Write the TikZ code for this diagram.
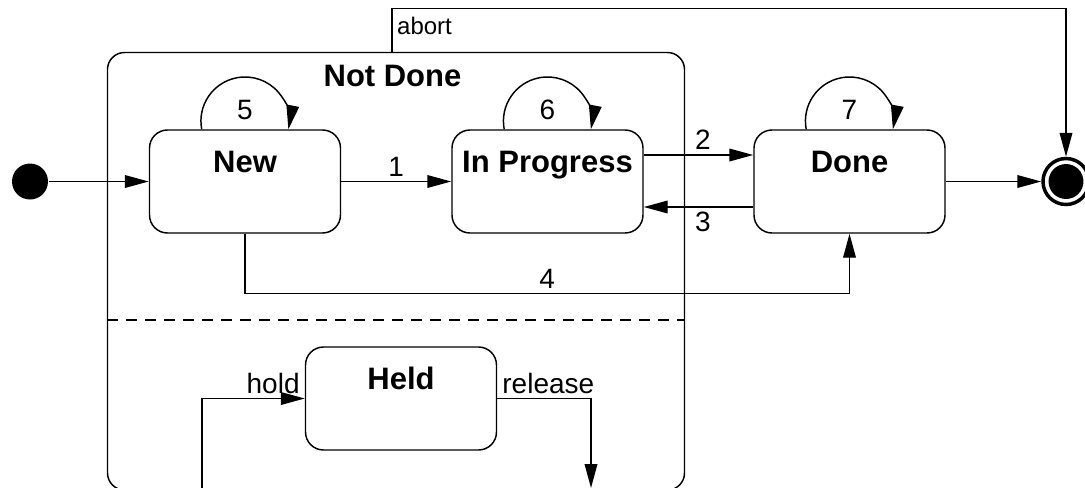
\documentclass[tikz,border=0pt]{standalone}
\usepackage{fontspec}
\setmainfont{Liberation Sans}
\usetikzlibrary{arrows.meta,calc}

\begin{document}
\begin{tikzpicture}[x=0.75pt,y=-0.75pt,
  line width=1.1pt,
  >={Triangle[length=18pt,width=9.5pt]},
  statebox/.style={draw, rounded corners=13.5pt, minimum width=143.25pt,
    minimum height=77.25pt, inner sep=0pt},
  statename/.style={font=\fontsize{23.25}{28}\selectfont\bfseries,
    anchor=base, inner sep=0pt},
  lbl/.style={font=\fontsize{21}{25}\selectfont},
  smalllbl/.style={font=\fontsize{18}{22}\selectfont},
  compound/.style={draw, rounded corners=12.75pt, minimum width=432.75pt,
    minimum height=328.125pt, inner sep=0pt},
  startdot/.style={circle, fill=black, minimum size=27pt, inner sep=0pt},
  enddot/.style={circle, draw, line width=2.6pt, minimum size=34.5pt, inner sep=0pt},
  divider/.style={dash pattern=on 8.25pt off 6pt},
]
% canvas
\fill[white] (0,0) rectangle (1085,487);
\path[use as bounding box, clip] (0,0) rectangle (1085,487);

% composite state with its two regions
\node[compound] (notdone) at (396,271.25) {};
\node[statename, anchor=center] (ndname) at (392.5,76) {Not Done};
\coordinate (sepy) at (0,320);
\draw[divider] (notdone.west |- sepy) -- (notdone.east |- sepy);

% pseudo states
\node[startdot] (init) at (30,181.5) {};
\node[enddot] (final) at (1066,181.5) {};
\fill (final.center) circle[radius=13.1pt];

% simple states
\node[statebox] (new)    at (245,181.5)   {};
\node[statebox] (inprog) at (547.5,181.5) {};
\node[statebox] (done)   at (849.5,181.5) {};
\node[statebox] (held)   at (401,398.5)   {};
\node[statename] (newname)    at ($(new.north)+(0,43)$)    {New};
\node[statename] (inprogname) at ($(inprog.north)+(0,43)$) {In Progress};
\node[statename] (donename)   at ($(done.north)+(0,43)$)   {Done};
\node[statename] (heldname)   at ($(held.north)+(0,43)$)   {Held};

% self transitions
\draw[->] ($(new.north)+(-43.3,0)$) arc[start angle=169.3, end angle=370.7, radius=44.1];
\draw[->] ($(inprog.north)+(-43.3,0)$) arc[start angle=169.3, end angle=370.7, radius=44.1];
\draw[->] ($(done.north)+(-43.3,0)$) arc[start angle=169.3, end angle=370.7, radius=44.1];
\node[lbl] (l5) at ($(new.north)+(0,-19)$) {5};
\node[lbl] (l6) at ($(inprog.north)+(0,-19)$) {6};
\node[lbl] (l7) at ($(done.north)+(0,-19)$) {7};

% transitions
\draw[->] (init) -- (new);
\draw[->] (new) -- node[lbl, above] (l1) {1} (inprog);
\draw[->] ($(inprog.east)+(0,-26.5)$) -- node[lbl, above, pos=0.54] (l2) {2}
  ($(done.west)+(0,-26.5)$);
\draw[->] ($(done.west)+(0,25.5)$) -- node[lbl, below, pos=0.46] (l3) {3}
  ($(inprog.east)+(0,25.5)$);
\draw[->] (new.south) -- ++(0,60) -| node[lbl, above, pos=0.25] (l4) {4} (done.south);
\draw[->] (done) -- (final);
\draw[->] ($(notdone.north)+(-4,0)$) -- node[smalllbl, right, pos=0.6] (labort) {abort}
  ++(0,-43.5) -| (final.north);

% hold / release
\coordinate (holdsrc) at (202,500);
\coordinate (relend) at (591,488);
\draw[->] (holdsrc) |- node[lbl, above left, pos=1] (lhold) {hold} (held.west);
\draw[->] (held.east) -| node[lbl, above right, pos=0] (lrel) {release} (relend);
\end{tikzpicture}
\end{document}
